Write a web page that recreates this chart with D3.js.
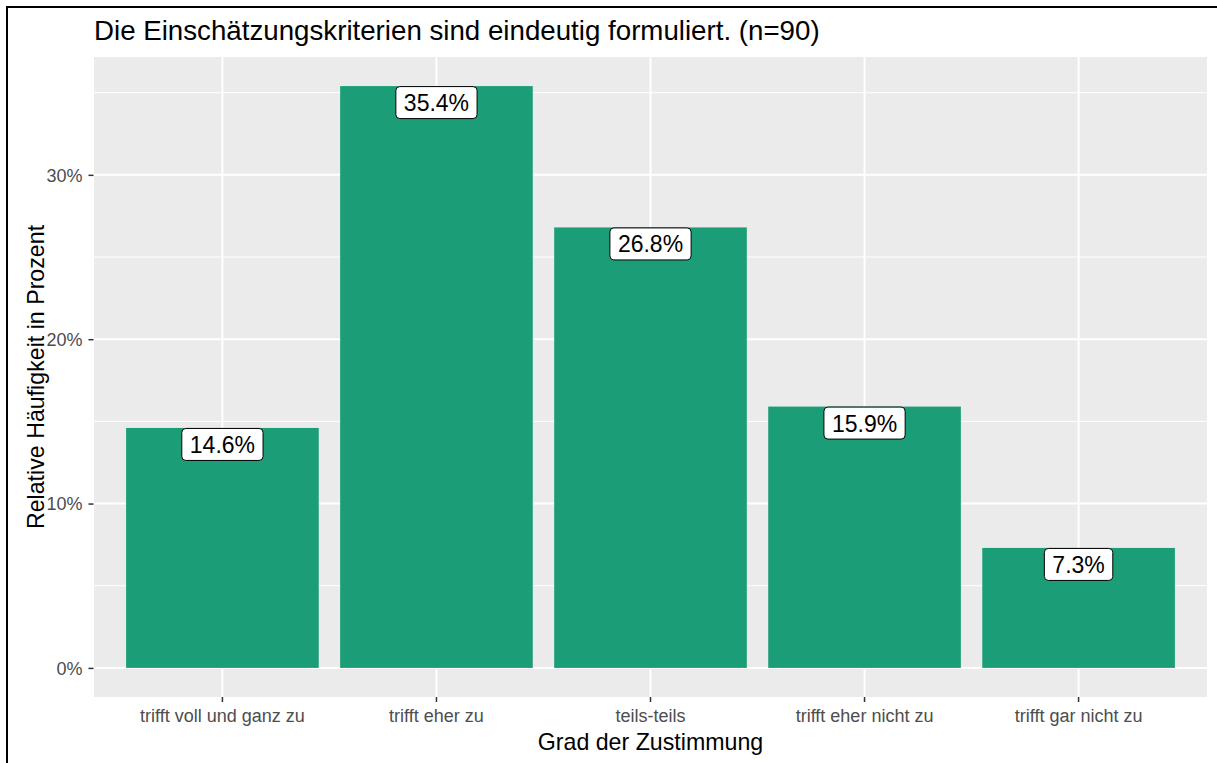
<!DOCTYPE html>
<html>
<head>
<meta charset="utf-8">
<script src="https://cdn.jsdelivr.net/npm/d3@7"></script>
<style>
  body { margin: 0; background: #fff; }
  svg { display: block; font-family: Arial, "Liberation Sans", sans-serif; }
</style>
</head>
<body>
<div id="chart"></div>
<script>
// chart data
var categories = ["trifft voll und ganz zu", "trifft eher zu", "teils-teils", "trifft eher nicht zu", "trifft gar nicht zu"];
var shares = [0.146, 0.354, 0.268, 0.159, 0.073];
var labels = ["14.6%", "35.4%", "26.8%", "15.9%", "7.3%"];
var majorTicks = [0, 0.1, 0.2, 0.3];
var minorTicks = [0.05, 0.15, 0.25, 0.35];

var W = 1217, H = 763;
var panel = {left: 94, top: 57, right: 1207, bottom: 697};

var svg = d3.select("#chart")
    .append("svg")
    .attr("width", W)
    .attr("height", H);

svg.append("rect").attr("width", W).attr("height", H).attr("fill", "#fff");

// left and top frame line
svg.append("path")
    .attr("d", "M7," + H + "V7H" + W)
    .attr("fill", "none")
    .attr("stroke", "#000")
    .attr("stroke-width", 2);

//Define scales (ggplot style expansion: 5% on y, 0.6 units on x)
var ymax = d3.max(shares);
var pad = ymax * 0.05;
var y = d3.scaleLinear()
    .domain([-pad, ymax + pad])
    .range([panel.bottom, panel.top]);

var x = d3.scaleBand()
    .domain(categories)
    .range([panel.left, panel.right])
    .paddingInner(0.1)
    .paddingOuter(0.15);
// center of category
function cx(d) { return x(d) + x.bandwidth() / 2; }

var g = svg.append("g");

// panel background
g.append("rect")
    .attr("x", panel.left)
    .attr("y", panel.top)
    .attr("width", panel.right - panel.left)
    .attr("height", panel.bottom - panel.top)
    .attr("fill", "#EBEBEB");

// grid lines
g.selectAll(".minor").data(minorTicks).enter().append("line")
    .attr("x1", panel.left).attr("x2", panel.right)
    .attr("y1", function (d) { return y(d); })
    .attr("y2", function (d) { return y(d); })
    .attr("stroke", "#fff").attr("stroke-width", 1);

g.selectAll(".major").data(majorTicks).enter().append("line")
    .attr("x1", panel.left).attr("x2", panel.right)
    .attr("y1", function (d) { return y(d); })
    .attr("y2", function (d) { return y(d); })
    .attr("stroke", "#fff").attr("stroke-width", 2);

g.selectAll(".vgrid").data(categories).enter().append("line")
    .attr("x1", cx).attr("x2", cx)
    .attr("y1", panel.top).attr("y2", panel.bottom)
    .attr("stroke", "#fff").attr("stroke-width", 2);

// bars
g.selectAll(".bar").data(shares).enter().append("rect")
    .attr("x", function (d, i) { return x(categories[i]); })
    .attr("width", x.bandwidth())
    .attr("y", function (d) { return y(d); })
    .attr("height", function (d) { return y(0) - y(d); })
    .attr("fill", "#1B9E77");

// value labels (geom_label, vjust = 1)
var lab = g.selectAll(".lab").data(shares).enter().append("g")
    .attr("transform", function (d, i) {
        return "translate(" + cx(categories[i]) + "," + y(d) + ")";
    });

lab.append("text")
    .attr("text-anchor", "middle")
    .attr("y", 25)
    .attr("font-size", "23px")
    .attr("fill", "#000")
    .text(function (d, i) { return labels[i]; })
    .each(function () {
        var bb = this.getBBox();
        d3.select(this.parentNode).insert("rect", "text")
            .attr("x", bb.x - 8)
            .attr("y", 0.5)
            .attr("width", bb.width + 16)
            .attr("height", 32)
            .attr("rx", 4).attr("ry", 4)
            .attr("fill", "#fff")
            .attr("stroke", "#000")
            .attr("stroke-width", 1);
    });

// y axis
var yAxis = d3.axisLeft(y)
    .tickValues(majorTicks)
    .tickFormat(d3.format(".0%"))
    .tickSize(5);

var ya = svg.append("g")
    .attr("transform", "translate(" + (panel.left - 0.5) + ",0)")
    .call(yAxis);
ya.select(".domain").remove();
ya.selectAll("line").attr("stroke", "#333").attr("stroke-width", 1.5);
ya.selectAll("text").attr("fill", "#4D4D4D").attr("font-size", "18px")
    .attr("font-family", null).attr("x", -11).attr("dy", "0.35em");

// x axis
var xAxis = d3.axisBottom(x)
    .tickSize(5);

var xa = svg.append("g")
    .attr("transform", "translate(0," + panel.bottom + ")")
    .call(xAxis);
xa.select(".domain").remove();
xa.selectAll("line").attr("stroke", "#333").attr("stroke-width", 1.5);
xa.selectAll("text").attr("fill", "#4D4D4D").attr("font-size", "18px")
    .attr("font-family", null).attr("y", 25).attr("dy", null);

// title & axis titles
svg.append("text")
    .attr("x", panel.left)
    .attr("y", 40)
    .attr("font-size", "27.7px")
    .attr("fill", "#000")
    .text("Die Einschätzungskriterien sind eindeutig formuliert. (n=90)");

svg.append("text")
    .attr("x", (panel.left + panel.right) / 2)
    .attr("y", 750)
    .attr("text-anchor", "middle")
    .attr("font-size", "23.2px")
    .attr("fill", "#000")
    .text("Grad der Zustimmung");

svg.append("text")
    .attr("transform", "translate(44," + ((panel.top + panel.bottom) / 2) + ") rotate(-90)")
    .attr("text-anchor", "middle")
    .attr("font-size", "23.2px")
    .attr("fill", "#000")
    .text("Relative Häufigkeit in Prozent");
</script>
</body>
</html>
